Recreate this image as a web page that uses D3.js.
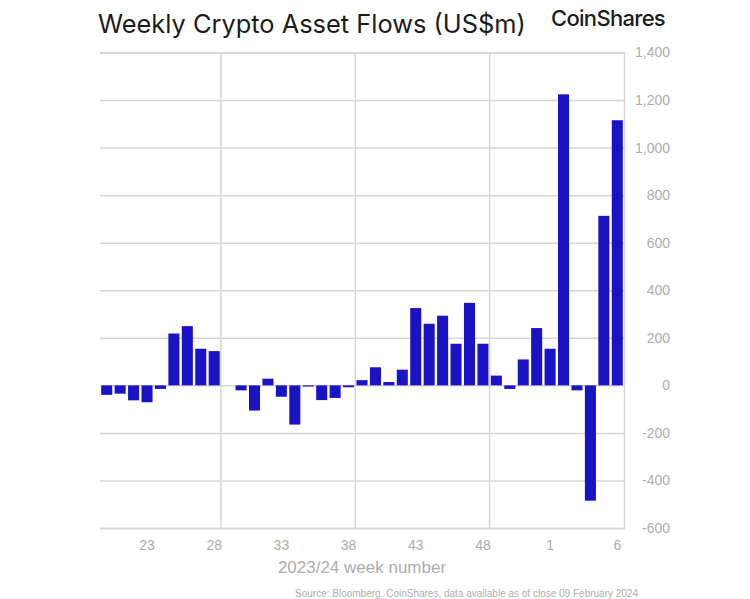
<!DOCTYPE html>
<html>
<head>
<meta charset="utf-8">
<script src="https://cdn.jsdelivr.net/npm/d3@7"></script>
<style>
  html, body { margin: 0; padding: 0; background: #fff; overflow: hidden; }
  text { font-family: "Liberation Sans", Arial, sans-serif; }
</style>
</head>
<body>
<div id="chart"></div>
<script>
// Values
const weeks = [20, 21, 22, 23, 24, 25, 26, 27, 28, 29, 30, 31, 32, 33, 34, 35, 36, 37, 38, 39,
  40, 41, 42, 43, 44, 45, 46, 47, 48, 49, 50, 51, 52, 1, 2, 3, 4, 5, 6];
const flows = [-40, -35, -63, -71, -15, 218, 249, 154, 144, 0, -21, -106, 28, -48, -165, -5, -62, -53, -8, 22,
  76, 14, 66, 325, 259, 293, 175, 347, 175, 41, -15, 109, 241, 154, 1224, -21, -485, 713, 1115];
const weekTicks = [23, 28, 33, 38, 43, 48, 1, 6];
const gridWeeks = [28, 38, 48];
const valueTicks = d3.range(-600, 1401, 200);

const width = 750;
const height = 599;
const margin = { left: 100, top: 52.5, right: 126, bottom: 71 };
const barColor = "#1a13c6";
const gridColor = "#d6d6d6";
const labelColor = "#adadad";

const chart = d3.select("#chart").append("svg")
  .attr("width", width)
  .attr("height", height);

const scaleX = d3.scaleBand()
  .domain(weeks)
  .range([margin.left, width - margin.right]);

const scaleY = d3.scaleLinear()
  .domain([-600, 1400])
  .range([height - margin.bottom, margin.top]);

// Horizontal grid and value labels on the right
const yAxis = d3.axisRight(scaleY)
  .tickValues(valueTicks)
  .tickSize(-(width - margin.right - margin.left))
  .tickFormat(d => d3.format(",d")(d).replace("\u2212", "-"));

chart.append("g")
  .attr("transform", `translate(${width - margin.right}, 0)`)
  .call(yAxis)
  .call(g => g.select(".domain").attr("stroke", gridColor).attr("stroke-width", 1.5))
  .call(g => g.selectAll(".tick line").attr("stroke", gridColor).attr("stroke-width", 1.5))
  .call(g => g.selectAll("text")
    .attr("fill", labelColor)
    .attr("font-size", 14)
    .attr("font-family", "Liberation Sans")
    .attr("text-anchor", "end")
    .attr("x", 46));

// Vertical grid every ten weeks
chart.append("g")
  .selectAll("line")
  .data(gridWeeks)
  .join("line")
  .attr("x1", d => scaleX(d) + scaleX.bandwidth())
  .attr("x2", d => scaleX(d) + scaleX.bandwidth())
  .attr("y1", margin.top)
  .attr("y2", height - margin.bottom)
  .attr("stroke", gridColor)
  .attr("stroke-width", 1.5);

// Week labels
const xAxis = d3.axisBottom(scaleX)
  .tickValues(weekTicks)
  .tickSize(0)
  .tickPadding(12);

chart.append("g")
  .attr("transform", `translate(0, ${height - margin.bottom})`)
  .call(xAxis)
  .call(g => g.select(".domain").remove())
  .call(g => g.selectAll("text")
    .attr("fill", labelColor)
    .attr("font-size", 14)
    .attr("font-family", "Liberation Sans"));

// Bars
chart.append("g")
  .selectAll("rect")
  .data(weeks)
  .join("rect")
  .attr("x", d => scaleX(d) + 1.2)
  .attr("width", scaleX.bandwidth() - 2.4)
  .attr("y", (d, i) => scaleY(Math.max(0, flows[i])))
  .attr("height", (d, i) => Math.abs(scaleY(flows[i]) - scaleY(0)))
  .attr("fill", barColor);

// Titles and notes
chart.append("text")
  .attr("x", 98)
  .attr("y", 33)
  .attr("fill", "#1c1c1c")
  .style("font-family", "Inter")
  .attr("font-size", 25.4)
  .text("Weekly Crypto Asset Flows (US$m)");

chart.append("text")
  .attr("x", 551)
  .attr("y", 26)
  .attr("fill", "#1c1c1c")
  .style("font-family", "Inter")
  .attr("font-size", 22)
  .attr("font-weight", 500)
  .attr("letter-spacing", -0.7)
  .text("CoinShares");

chart.append("text")
  .attr("x", 362)
  .attr("y", 573)
  .attr("text-anchor", "middle")
  .attr("fill", labelColor)
  .attr("font-size", 17)
  .text("2023/24 week number");

chart.append("text")
  .attr("x", 638)
  .attr("y", 597)
  .attr("text-anchor", "end")
  .attr("fill", labelColor)
  .attr("font-size", 10)
  .text("Source: Bloomberg, CoinShares, data available as of close 09 February 2024");
</script>
</body>
</html>
